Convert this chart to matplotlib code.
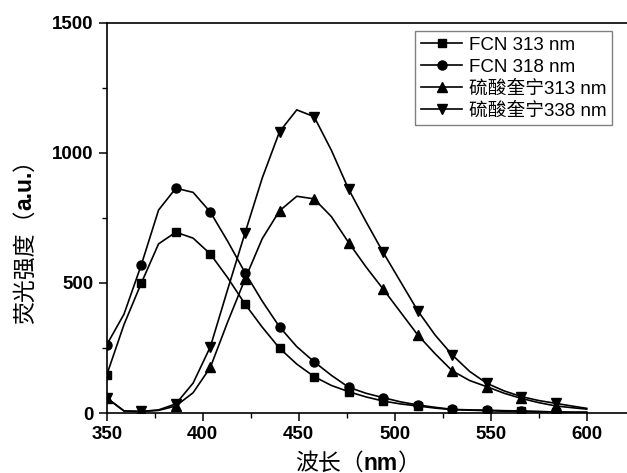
import matplotlib
matplotlib.use("Agg")
import matplotlib.pyplot as plt
from matplotlib.ticker import MultipleLocator

plt.rcParams['font.family'] = ['Liberation Sans', 'Noto Sans CJK SC', 'DejaVu Sans']

# wavelength grid (markers sit on every second point)
wl = [350, 359, 368, 377, 386, 395, 404, 413, 422, 431, 440, 449, 458, 467,
      476, 485, 494, 503, 512, 521, 530, 539, 548, 557, 566, 575, 584, 593, 600]

fcn_313 = [146, 340, 499, 650, 695, 672, 611, 520, 419, 330, 249, 188, 140, 106,
           82, 62, 46, 35, 27, 19, 13, 11, 9, 7, 6, 5, 4, 3, 3]
fcn_318 = [262, 380, 569, 780, 864, 848, 772, 660, 540, 430, 331, 255, 197, 145,
           99, 76, 59, 43, 31, 22, 14, 12, 11, 9, 8, 6, 4, 3, 3]
qs_313 = [58, 8, 6, 10, 27, 78, 176, 350, 514, 670, 777, 833, 823, 755,
          655, 562, 476, 388, 300, 228, 162, 125, 101, 76, 56, 40, 27, 20, 15]
qs_338 = [58, 8, 6, 12, 35, 115, 255, 475, 691, 903, 1081, 1165, 1139, 1010,
          860, 736, 617, 505, 393, 300, 223, 160, 114, 85, 63, 48, 37, 26, 18]

labels = ['FCN 313 nm', 'FCN 318 nm', '硫酸奎宁313 nm', '硫酸奎宁338 nm']
markers = ['s', 'o', '^', 'v']
sizes = [6, 6.5, 7, 7]

fig = plt.figure(figsize=(6.27, 4.73), dpi=100)
ax = fig.add_axes([0.1702, 0.1268, 0.8421, 0.8252])

for ys, lab, mk, ms in zip([fcn_313, fcn_318, qs_313, qs_338], labels, markers, sizes):
    ax.plot(wl, ys, color='black', lw=1.2, marker=mk, ms=ms,
            markevery=slice(0, 28, 2), label=lab)

ax.set_xlim(350, 625)
ax.set_ylim(0, 1500)
ax.xaxis.set_major_locator(MultipleLocator(50))
ax.xaxis.set_minor_locator(MultipleLocator(25))
ax.yaxis.set_major_locator(MultipleLocator(500))
ax.yaxis.set_minor_locator(MultipleLocator(250))
ax.tick_params(which='major', direction='out', length=5.5, width=1.1, pad=4,
               labelsize=13.5)
ax.tick_params(which='minor', direction='out', length=3.5, width=1.0)
for t in ax.get_xticklabels() + ax.get_yticklabels():
    t.set_fontweight('bold')
for s in ['left', 'bottom', 'top']:
    ax.spines[s].set_linewidth(1.2)
ax.spines['right'].set_visible(False)

leg = ax.legend(loc='upper right', bbox_to_anchor=(612 / 627, 1 - 31 / 473),
                bbox_transform=fig.transFigure, borderaxespad=0,
                fancybox=False, edgecolor='#808080', framealpha=1,
                fontsize=13.5, handlelength=2.2, handletextpad=0.35,
                labelspacing=0.25, borderpad=0.3)
leg.get_frame().set_linewidth(1.0)


# axis titles: CJK regular, latin part bold -> draw in pieces
def piece_label(pieces, cx, cy, vertical=False, size=16.5):
    W, H = 627, 473
    r = fig.canvas.get_renderer()
    texts = []
    for s, w in pieces:
        t = fig.text(0, 0, s, fontsize=size, fontweight=w,
                     rotation=90 if vertical else 0, rotation_mode='anchor',
                     ha='left', va='center')
        texts.append(t)
    lens = []
    for t in texts:
        bb = t.get_window_extent(r)
        lens.append(bb.height if vertical else bb.width)
    pos = (cy if vertical else cx) - sum(lens) / 2
    for t, L in zip(texts, lens):
        if vertical:
            t.set_position((cx / W, pos / H))
        else:
            t.set_position((pos / W, cy / H))
        pos += L


piece_label([('荧光强度（', 'normal'), ('a.u.', 'bold'), ('）', 'normal')],
            25, 473 - 236, vertical=True)
piece_label([('波长（', 'normal'), ('nm', 'bold'), ('）', 'normal')],
            358, 473 - 463)

fig.savefig('out.png', dpi=100)
